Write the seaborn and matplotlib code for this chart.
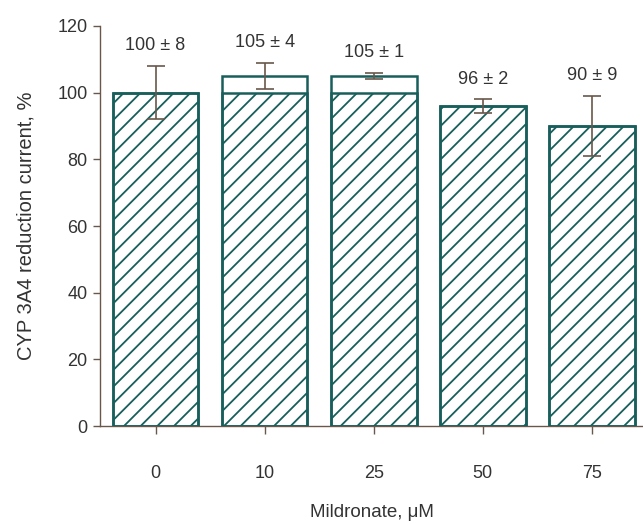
import matplotlib
matplotlib.use("Agg")
import matplotlib.pyplot as plt
import seaborn as sns
import numpy as np

# Data
concentrations = ["0", "10", "25", "50", "75"]
means = [100, 105, 105, 96, 90]
errors = [8, 4, 1, 2, 9]
labels = ["100 ± 8", "105 ± 4", "105 ± 1", "96 ± 2", "90 ± 9"]
baseline = 100


def main():
    sns.set_style("ticks")
    plt.rcParams["font.family"] = ["Liberation Sans", "DejaVu Sans"]
    plt.rcParams["hatch.linewidth"] = 1.3
    teal = "#185f5c"
    brown = "#6a574c"
    text_color = "#333333"
    plt.rcParams["hatch.color"] = teal

    hatched = np.minimum(means, baseline)

    fig = plt.figure(figsize=(6.43, 5.24), dpi=100)
    ax = fig.add_axes([0.1555, 0.187, 0.8445, 0.7634])

    # full bar outline (white), then hatched part up to baseline
    sns.barplot(x=concentrations, y=means, color="white", edgecolor=teal,
                linewidth=1.8, width=0.785, errorbar=None, ax=ax, zorder=2)
    n_before = len(ax.patches)
    sns.barplot(x=concentrations, y=hatched, color="white", edgecolor=teal,
                linewidth=1.8, width=0.785, errorbar=None, ax=ax, zorder=3)
    for p in ax.patches[n_before:]:
        p.set_hatch("//")
        p.set_facecolor("none")

    xs = np.arange(len(concentrations))
    ax.errorbar(xs, means, yerr=errors, fmt="none", ecolor=brown,
                elinewidth=1.2, capsize=6.5, capthick=1.2, zorder=4)

    for x, m, e, lab in zip(xs, means, errors, labels):
        ax.text(x, m + e + 6, lab, ha="center", va="center",
                fontsize=13, color=text_color)

    ax.set_ylim(0, 120)
    ax.set_xlim(-0.509, 4.468)
    ax.set_yticks(range(0, 121, 20))

    for side in ["top", "right"]:
        ax.spines[side].set_visible(False)
    for side in ["left", "bottom"]:
        ax.spines[side].set_color(brown)
        ax.spines[side].set_linewidth(1.0)

    ax.tick_params(axis="y", colors=brown, labelcolor=text_color,
                   labelsize=13, length=5, width=1, pad=4)
    ax.tick_params(axis="x", colors=brown, labelcolor=text_color,
                   labelsize=13, length=6, width=1, pad=22)

    ax.set_xlabel("Mildronate, μM", fontsize=13.5, color=text_color, labelpad=16)
    ax.set_ylabel("CYP 3A4 reduction current, %", fontsize=14.5,
                  color=text_color, labelpad=16)

    fig.savefig("out.png", dpi=100)


if __name__ == "__main__":
    main()
